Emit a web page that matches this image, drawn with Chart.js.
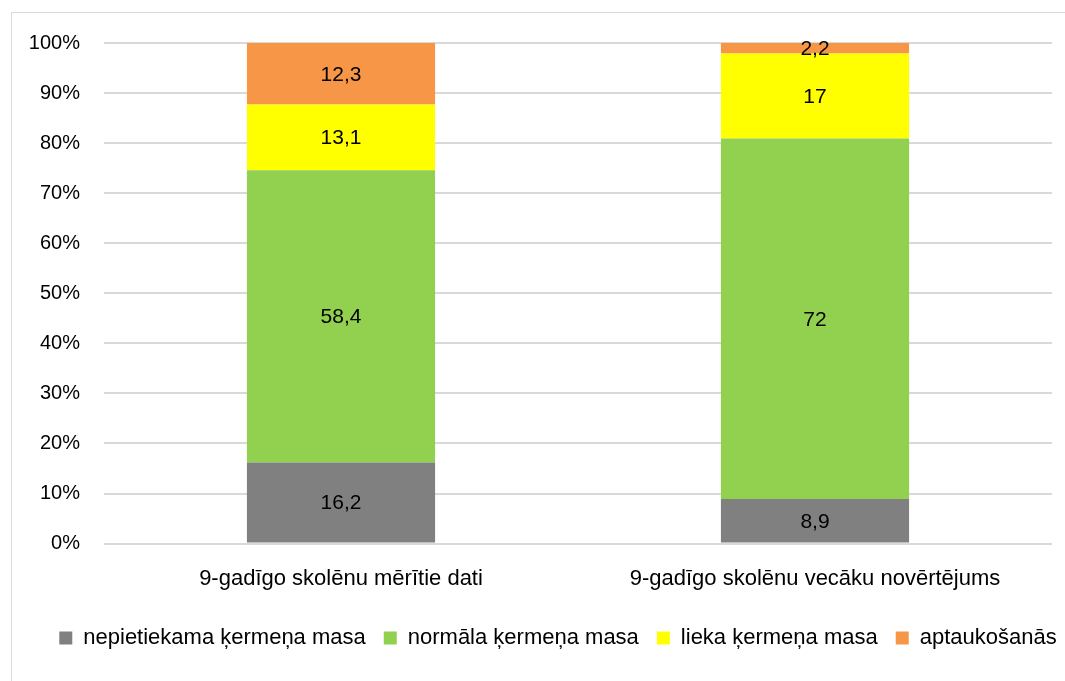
<!DOCTYPE html>
<html>
<head>
<meta charset="utf-8">
<script src="https://cdn.jsdelivr.net/npm/chart.js@4/dist/chart.umd.min.js"></script>
<style>
  body { margin: 0; background: #fff; }
  #wrap { width: 1065px; height: 681px; }
</style>
</head>
<body>
<div id="wrap"><canvas id="myChart" width="1065" height="681"></canvas></div>
<script>
const categories = ['9-gadīgo skolēnu mērītie dati', '9-gadīgo skolēnu vecāku novērtējums'];
const seriesNames = ['nepietiekama ķermeņa masa', 'normāla ķermeņa masa', 'lieka ķermeņa masa', 'aptaukošanās'];
const underweight = [16.2, 8.9];
const normal = [58.4, 72];
const overweight = [13.1, 17];
const obese = [12.3, 2.2];
const colors = ['#808080', '#92d050', '#ffff00', '#f79646'];

const FONT = "'Liberation Sans', Arial, sans-serif";

// draws the value in the middle of each bar piece, with a decimal comma
const barLabels = {
    id: 'barLabels',
    afterDatasetsDraw(chart) {
        const ctx = chart.ctx;
        ctx.save();
        ctx.font = '21px ' + FONT;
        ctx.fillStyle = '#000';
        ctx.textAlign = 'center';
        ctx.textBaseline = 'middle';
        chart.data.datasets.forEach((ds, i) => {
            chart.getDatasetMeta(i).data.forEach((bar, j) => {
                let y = (bar.y + bar.base) / 2;
                ctx.fillText(String(ds.data[j]).replace('.', ','), bar.x, y + 1);
            });
        });
        ctx.restore();
    }
};

// thin grey frame like the office chart border
const frame = {
    id: 'frame',
    beforeDraw(chart) {
        const ctx = chart.ctx;
        ctx.save();
        ctx.strokeStyle = '#d9d9d9';
        ctx.lineWidth = 1;
        ctx.strokeRect(11.5, 12.5, 1200, 800);
        ctx.restore();
    }
};

// nudge the legend a bit right and down, as in the original
const moveLegend = {
    id: 'moveLegend',
    afterLayout(chart) {
        const lg = chart.legend;
        lg.left += 32; lg.right += 32;
        lg.top += 3; lg.bottom += 3;
    }
};

const data = {
    labels: categories,
    datasets: [underweight, normal, overweight, obese].map((vals, i) => ({
        label: seriesNames[i],
        data: vals,
        backgroundColor: colors[i],
        borderWidth: 0,
        barPercentage: 0.397,
        categoryPercentage: 1
    }))
};

const config = {
    type: 'bar',
    data: data,
    options: {
        responsive: false,
        animation: false,
        layout: { padding: { top: 43, right: 13, bottom: 25, left: 0 } },
        scales: {
            x: {
                stacked: true,
                grid: { display: false },
                border: { display: false },
                ticks: { color: '#000', font: { family: FONT, size: 22 }, padding: 14 }
            },
            y: {
                stacked: true,
                min: 0,
                max: 100,
                afterFit(scale) { scale.width = 104; },
                grid: { color: '#d9d9d9', lineWidth: 2, drawTicks: false },
                border: { display: false },
                ticks: {
                    stepSize: 10,
                    color: '#000',
                    padding: 24,
                    font: { family: FONT, size: 20 },
                    callback: (v) => v + '%'
                }
            }
        },
        plugins: {
            tooltip: { enabled: false },
            legend: {
                position: 'bottom',
                labels: {
                    color: '#000',
                    boxWidth: 13,
                    boxHeight: 13,
                    padding: 18,
                    font: { family: FONT, size: 22 }
                }
            }
        }
    },
    plugins: [frame, moveLegend, barLabels]
};

const myChart = new Chart(document.getElementById('myChart'), config);
</script>
</body>
</html>
